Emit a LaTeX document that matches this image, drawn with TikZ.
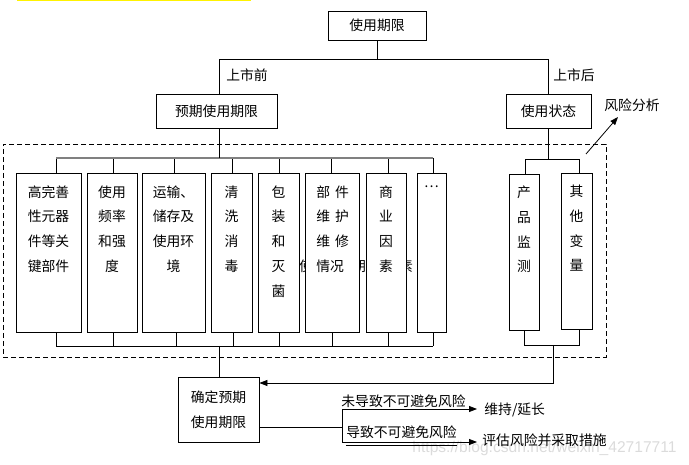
\documentclass[tikz,border=0pt]{standalone}
\usepackage{fontspec}
\setmainfont{Noto Sans CJK SC}
\newfontfamily\wmfont{Liberation Sans}
\usetikzlibrary{arrows.meta}
\begin{document}
\begin{tikzpicture}[x=1pt,y=-1pt,line width=0.8pt,
  font=\fontsize{13.8pt}{24.75pt}\selectfont,
  box/.style={draw,fill=white,inner sep=0pt},
  txt/.style={inner sep=0pt,align=center},
  coltxt/.style={inner sep=0pt,align=center,anchor=north},
  bus/.style={draw=black!50,line width=1.3pt},
  tip/.style={-{Triangle[length=8pt,width=6pt]}},
  framebox/.style={draw,dash pattern=on 5pt off 3pt,inner sep=0pt}]
\useasboundingbox (0,0) rectangle (689,465);
\fill[yellow] (17,0) rectangle (251,1.5);
% watermark
\node[text=black!14,font=\wmfont\fontsize{15.6pt}{18pt}\selectfont,anchor=west,inner sep=0pt] (wm) at (412,448) {https://blog.csdn.net/weixin\_42717711};
% top level
\node[box,minimum width=98pt,minimum height=29pt] (top) at (377,25.5) {使用期限};
\node[box,minimum width=121pt,minimum height=34pt] (pre) at (216.5,111) {预期使用期限};
\node[box,minimum width=85pt,minimum height=34pt] (st) at (548.5,111) {使用状态};
\node[txt] (l0a) at (247,75) {上市前};
\node[txt] (l0b) at (574,75) {上市后};
\node[txt] (risk) at (632,105) {风险分析};
\coordinate (j1) at (219,59);
\coordinate (j2) at (548,59);
\draw (top.south) -- (top.south |- j1);
\draw (j1 |- pre.north) -- (j1) -- (j2) -- (j2 |- st.north);
% dashed frame
\node[framebox,minimum width=603pt,minimum height=213pt] (frame) at (304.5,250.5) {};
% hidden glyph slivers
\node[txt] (h1) at (306,266) {使};
\node[txt] (h2) at (359,266) {期};
\node[txt] (h3) at (406,266) {素};
% left group boxes
\node[box,minimum width=65pt,minimum height=159pt] (b1) at (48.5,252.5) {};
\node[box,minimum width=50pt,minimum height=159pt] (b2) at (112,252.5) {};
\node[box,minimum width=63pt,minimum height=159pt] (b3) at (173.5,252.5) {};
\node[box,minimum width=41pt,minimum height=159pt] (b4) at (231.5,252.5) {};
\node[box,minimum width=41pt,minimum height=159pt] (b5) at (278.5,252.5) {};
\node[box,minimum width=54pt,minimum height=159pt] (b6) at (332,252.5) {};
\node[box,minimum width=40pt,minimum height=159pt] (b7) at (386,252.5) {};
\node[box,minimum width=29pt,minimum height=159pt] (b8) at (431.5,252.5) {};
\node[coltxt] (t1) at ([yshift=-12.5pt]b1.north) {高完善\\性元器\\件等关\\键部件};
\node[coltxt] (t2) at ([yshift=-12.5pt]b2.north) {使用\\频率\\和强\\度};
\node[coltxt] (t3) at ([yshift=-12.5pt]b3.north) {运输、\\储存及\\使用环\\境};
\node[coltxt] (t4) at ([yshift=-12.5pt]b4.north) {清\\洗\\消\\毒};
\node[coltxt] (t5) at ([yshift=-12.5pt]b5.north) {包\\装\\和\\灭\\菌};
\node[coltxt,align=left,anchor=north west] (t6) at ([yshift=-12.5pt]b6.north west -| 316,0) {部\hspace{5pt}件\\维\hspace{5pt}护\\维\hspace{5pt}修\\情况};
\node[coltxt] (t7) at ([yshift=-12.5pt]b7.north) {商\\业\\因\\素};
\node[coltxt] (t8) at ([yshift=-12.5pt]b8.north) {…};
% buses of the left group
\coordinate (ta1) at (56,158);  \coordinate (ba1) at (56,346);
\coordinate (ta2) at (113,158); \coordinate (ba2) at (113,346);
\coordinate (ta3) at (174,158); \coordinate (ba3) at (176,346);
\coordinate (ta4) at (232,158); \coordinate (ba4) at (233,346);
\coordinate (ta5) at (279,158); \coordinate (ba5) at (279,346);
\coordinate (ta6) at (331,158); \coordinate (ba6) at (332,346);
\coordinate (ta7) at (388,158); \coordinate (ba7) at (388,346);
\coordinate (ta8) at (433,158); \coordinate (ba8) at (433,346);
\foreach \i in {1,...,8}{
  \draw (ta\i) -- (ta\i |- b\i.north);
  \draw (ba\i) -- (ba\i |- b\i.south);
}
\draw[bus] (ta1) -- (ta8);
\draw (ba1) -- (ba8);
\draw (j1 |- pre.south) -- (j1 |- ta1);
% right group
\node[box,minimum width=30pt,minimum height=156pt] (p1) at (524,252) {};
\node[box,minimum width=31pt,minimum height=156pt] (p2) at (576.5,251) {};
\node[coltxt] (s1) at ([yshift=-12pt]p1.north) {产\\品\\监\\测};
\node[coltxt] (s2) at ([yshift=-12pt]p2.north) {其\\他\\变\\量};
\coordinate (rt1) at (525,159); \coordinate (rt2) at (579,159);
\coordinate (rb1) at (524,345); \coordinate (rb2) at (579,345);
\coordinate (rb) at (553,345);  \coordinate (ra) at (553,383);
\draw (st.south) -- (st.south |- rt1);
\draw (rt1 |- p1.north) -- (rt1) -- (rt2) -- (rt2 |- p2.north);
\draw (rb1 |- p1.south) -- (rb1) -- (rb2) -- (rb2 |- p2.south);
% risk arrow
\coordinate (rk0) at (586,154);
\coordinate (rk) at (618,117);
\draw[tip] (rk0) -- (rk);
% final box
\node[box,minimum width=81pt,minimum height=65pt] (fin) at (218.5,409.5) {};
\node[txt] (fint) at (fin.center) {确定预期\\使用期限};
\draw (j1 |- ba1) -- (j1 |- fin.north);
\draw[tip] (rb) -- (ra) -- (ra -| fin.east);
% outcomes
\coordinate (br) at (342,427);
\coordinate (bu) at (342,409);
\coordinate (bd) at (342,442);
\coordinate (ou1) at (477,409);
\coordinate (ou2) at (477,442);
\node[txt] (l1) at (403.5,401) {未导致不可避免风险};
\node[txt] (l2) at (401.5,432) {导致不可避免风险};
\node[txt,anchor=west] (o1) at (484,410) {维持/延长};
\node[txt,anchor=west] (o2) at (482,440) {评估风险并采取措施};
\draw (fin.east |- br) -- (br);
\draw (bu) -- (bd);
\draw[tip] (bu) -- (ou1);
\draw[tip] (bd) -- (ou2);
\draw ([yshift=-6.5pt]l2.south west) -- ([yshift=-6.5pt]l2.south east);
\end{tikzpicture}
\end{document}
